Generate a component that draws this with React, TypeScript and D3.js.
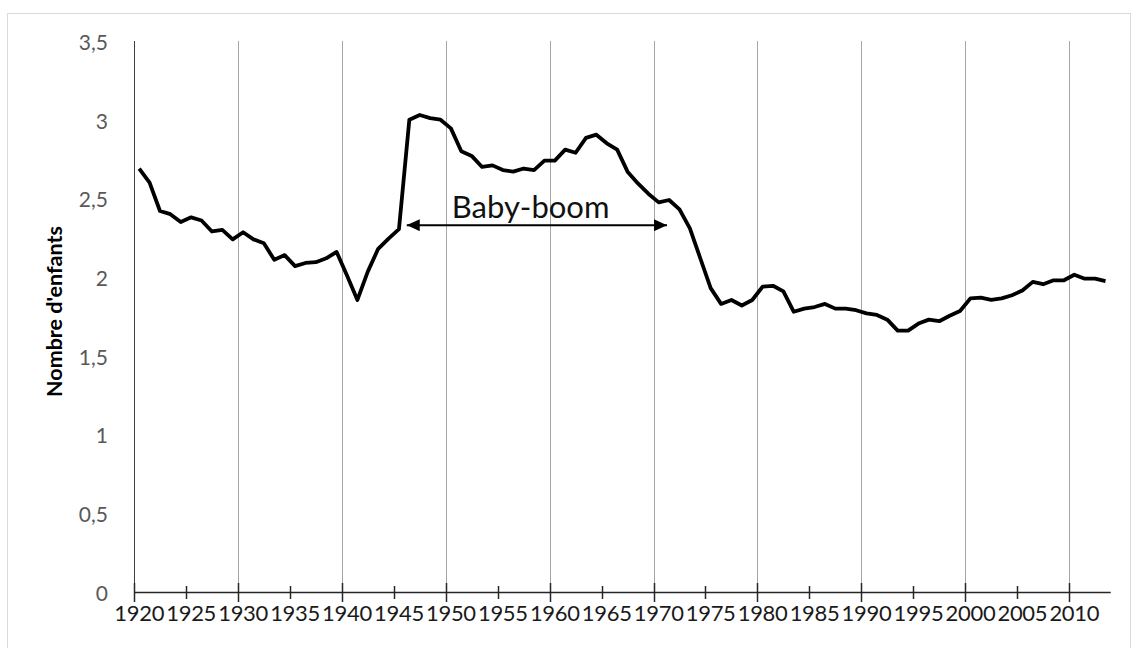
import * as d3 from "d3";
import React, { useRef, useEffect } from "react";

const WIDTH = 1139;
const HEIGHT = 648;

// années (catégories) 1920 -> 2013
const years = d3.range(1920, 2014);

// indicateur conjoncturel de fécondité
const fertility = [
	// 1920-1929
	2.69, 2.6, 2.42, 2.4, 2.35, 2.38, 2.36, 2.29, 2.3, 2.24,
	// 1930-1939
	2.285, 2.24, 2.215, 2.11, 2.14, 2.07, 2.09, 2.095, 2.12, 2.16,
	// 1940-1949
	2.01, 1.855, 2.035, 2.18, 2.245, 2.305, 3.0, 3.03, 3.01, 3.0,
	// 1950-1959
	2.945, 2.8, 2.77, 2.7, 2.71, 2.68, 2.67, 2.69, 2.68, 2.74,
	// 1960-1969
	2.74, 2.81, 2.79, 2.885, 2.905, 2.85, 2.81, 2.67, 2.595, 2.53,
	// 1970-1979
	2.475, 2.49, 2.43, 2.31, 2.12, 1.93, 1.83, 1.855, 1.82, 1.855,
	// 1980-1989
	1.94, 1.945, 1.91, 1.78, 1.8, 1.81, 1.83, 1.8, 1.8, 1.79,
	// 1990-1999
	1.77, 1.76, 1.73, 1.66, 1.66, 1.705, 1.73, 1.72, 1.755, 1.785,
	// 2000-2009
	1.865, 1.87, 1.855, 1.865, 1.885, 1.915, 1.97, 1.955, 1.98, 1.98,
	// 2010-2013
	2.015, 1.99, 1.99, 1.975,
];

const yTicks = [0, 0.5, 1, 1.5, 2, 2.5, 3, 3.5];
const labelYears = d3.range(1920, 2011, 5);
const gridYears = d3.range(1930, 2011, 10);
const majorTickYears = d3.range(1920, 2011, 10);
const minorTickYears = d3.range(1925, 2011, 10);

// flèche "Baby-boom" (en années / nombre d'enfants)
const boomLabel = "Baby-boom";
const boomStart = 1945.75;
const boomEnd = 1970.8;
const boomLevel = 2.33;

const FONT = "Lato, 'Open Sans', sans-serif";

const App = () => {
	const svgRef = useRef(null);

	useEffect(() => {
		const svg = d3.select(svgRef.current);
		svg.selectAll("*").remove();

		const left = 134;
		const right = 1110.7;
		const top = 41;
		const bottom = 592;

		// catégories entre les graduations : l'année n occupe [n-0.5, n+0.5]
		const x = d3.scaleLinear().domain([1919.5, 2013.5]).range([left, right]);
		const y = d3.scaleLinear().domain([0, 3.5]).range([bottom, top]);

		svg.append("rect").attr("x", 0).attr("y", 0).attr("width", WIDTH).attr("height", HEIGHT).attr("fill", "#fff");
		svg
			.append("rect")
			.attr("x", 7.5)
			.attr("y", 13.5)
			.attr("width", 1123)
			.attr("height", 660)
			.attr("fill", "none")
			.attr("stroke", "#d9d9d9");

		// quadrillage vertical
		svg
			.append("g")
			.selectAll("line")
			.data(gridYears)
			.join("line")
			.attr("x1", (d) => Math.round(x(d - 0.5)) + 0.5)
			.attr("x2", (d) => Math.round(x(d - 0.5)) + 0.5)
			.attr("y1", top)
			.attr("y2", bottom)
			.attr("stroke", "#a6a6a6")
			.attr("stroke-width", 1);

		// axe vertical
		svg
			.append("line")
			.attr("x1", left + 0.5)
			.attr("x2", left + 0.5)
			.attr("y1", top)
			.attr("y2", bottom)
			.attr("stroke", "#404040");

		svg
			.append("g")
			.selectAll("text")
			.data(yTicks)
			.join("text")
			.attr("x", 108)
			.attr("y", (d) => y(d))
			.attr("dy", "0.42em")
			.attr("text-anchor", "end")
			.attr("font-family", FONT)
			.attr("font-size", 21)
			.attr("fill", "#595959")
			.text((d) => String(d).replace(".", ","));

		// axe horizontal
		svg
			.append("line")
			.attr("x1", left)
			.attr("x2", right)
			.attr("y1", bottom + 0.5)
			.attr("y2", bottom + 0.5)
			.attr("stroke", "#262626")
			.attr("stroke-width", 1.5);

		svg
			.append("g")
			.selectAll("line")
			.data(majorTickYears)
			.join("line")
			.attr("x1", (d) => Math.round(x(d - 0.5)) + 0.5)
			.attr("x2", (d) => Math.round(x(d - 0.5)) + 0.5)
			.attr("y1", bottom - 9)
			.attr("y2", bottom + 10)
			.attr("stroke", "#262626")
			.attr("stroke-width", 1.5);

		svg
			.append("g")
			.selectAll("line")
			.data(minorTickYears)
			.join("line")
			.attr("x1", (d) => Math.round(x(d - 0.5)) + 0.5)
			.attr("x2", (d) => Math.round(x(d - 0.5)) + 0.5)
			.attr("y1", bottom - 6)
			.attr("y2", bottom + 7)
			.attr("stroke", "#262626")
			.attr("stroke-width", 1.5);

		svg
			.append("g")
			.selectAll("text")
			.data(labelYears)
			.join("text")
			.attr("x", (d) => x(d))
			.attr("y", 621)
			.attr("text-anchor", "middle")
			.attr("font-family", FONT)
			.attr("font-size", 22)
			.attr("letter-spacing", -0.3)
			.attr("fill", "#1a1a1a")
			.text((d) => d);

		// titre de l'axe
		svg
			.append("text")
			.attr("transform", `translate(62,311.5) rotate(-90)`)
			.attr("text-anchor", "middle")
			.attr("font-family", FONT)
			.attr("font-weight", "bold")
			.attr("font-size", 21.5)
			.attr("fill", "#000")
			.text("Nombre d'enfants");

		// courbe
		const line = d3
			.line()
			.x((d, i) => x(years[i]))
			.y((d) => y(d));

		svg
			.append("path")
			.datum(fertility)
			.attr("fill", "none")
			.attr("stroke", "#000")
			.attr("stroke-width", 3.8)
			.attr("stroke-linejoin", "round")
			.attr("d", line);

		// annotation baby-boom
		const defs = svg.append("defs");
		defs
			.append("marker")
			.attr("id", "arrowhead")
			.attr("markerUnits", "userSpaceOnUse")
			.attr("viewBox", "0 0 13 12")
			.attr("refX", 13)
			.attr("refY", 6)
			.attr("markerWidth", 13)
			.attr("markerHeight", 12)
			.attr("orient", "auto-start-reverse")
			.append("path")
			.attr("d", "M0,0L13,6L0,12Z")
			.attr("fill", "#000");

		svg
			.append("line")
			.attr("x1", x(boomStart))
			.attr("x2", x(boomEnd))
			.attr("y1", y(boomLevel))
			.attr("y2", y(boomLevel))
			.attr("stroke", "#000")
			.attr("stroke-width", 2)
			.attr("marker-start", "url(#arrowhead)")
			.attr("marker-end", "url(#arrowhead)");

		svg
			.append("text")
			.attr("x", x(boomStart) + 45)
			.attr("y", y(boomLevel) - 7)
			.attr("font-family", FONT)
			.attr("font-size", 31)
			.attr("fill", "#111")
			.text(boomLabel);
	}, []);

	return (
		<svg
			ref={svgRef}
			width={WIDTH}
			height={HEIGHT}
			viewBox={`0 0 ${WIDTH} ${HEIGHT}`}
			style={{ position: "absolute", left: 0, top: 0, display: "block" }}
		/>
	);
};

export default App;
